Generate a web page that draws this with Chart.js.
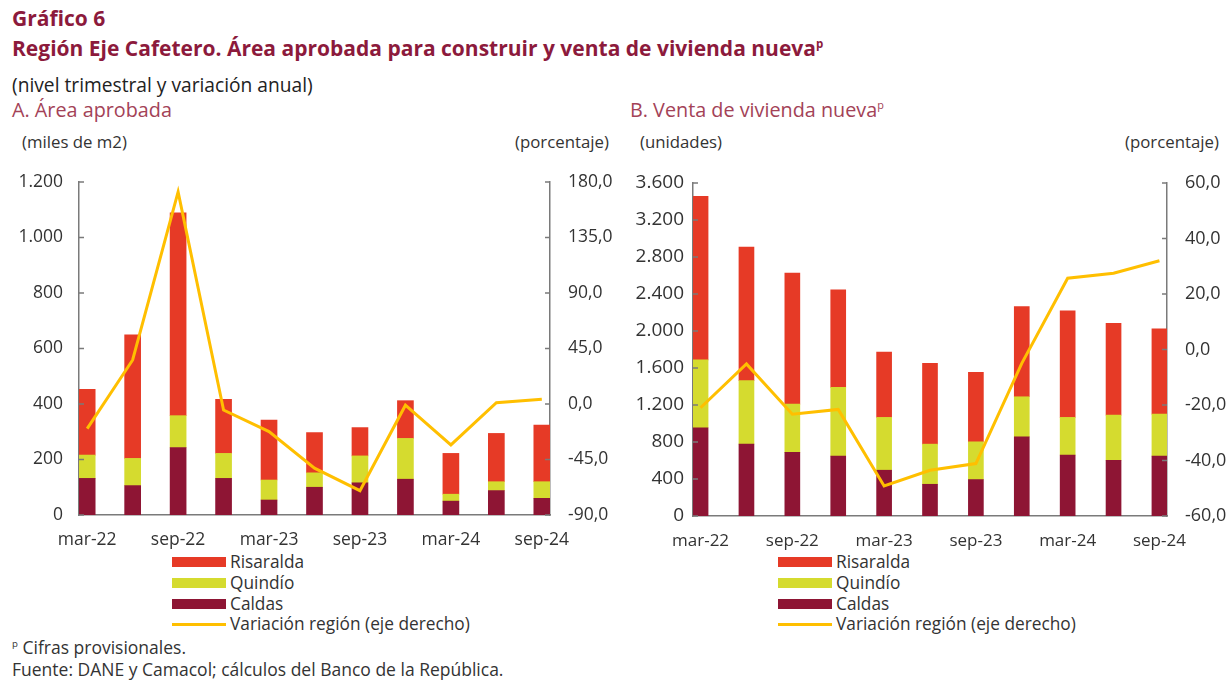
<!DOCTYPE html>
<html lang="es">
<head>
<meta charset="utf-8">
<title>Gráfico 6 - Región Eje Cafetero</title>
<script src="https://cdn.jsdelivr.net/npm/chart.js@4.4.1/dist/chart.umd.min.js"></script>
<style>
  html, body { margin: 0; padding: 0; background: #fff; }
  body { width: 1228px; height: 680px; position: relative; overflow: hidden; font-family: 'Open Sans', Lato, sans-serif; color: #222; }
  .txt { position: absolute; white-space: nowrap; line-height: 1.2; }
  .titulo { color: #8c1a3c; font-weight: bold; font-size: 21px; }
  .subtitulo { font-size: 19.2px; color: #222; }
  .panel { color: #a34257; font-size: 19.8px; }
  .unidad { font-size: 16.8px; color: #333; }
  .caja { position: absolute; }
  .leyenda { position: absolute; font-size: 17.3px; color: #333; line-height: 1.2; }
  .leyenda div { height: 20.8px; display: flex; align-items: center; white-space: nowrap; }
  .leyenda span.sw { display: inline-block; width: 54px; margin-right: 4px; flex: none; }
  .nota { font-size: 17.5px; color: #333; }
  sup { font-size: 55%; }
</style>
</head>
<body>
<div class="txt titulo" style="left:12px; top:6px;">Gráfico 6</div>
<div class="txt titulo" style="left:12px; top:36px;">Región Eje Cafetero. Área aprobada para construir y venta de vivienda nueva<sup>p</sup></div>
<div class="txt subtitulo" style="left:12px; top:73px;">(nivel trimestral y variación anual)</div>
<div class="txt panel" style="left:12px; top:98px;">A. Área aprobada</div>
<div class="txt panel" style="left:630px; top:98px;">B. Venta de vivienda nueva<sup>p</sup></div>

<div class="txt unidad" style="left:22px; top:132px;">(miles de m2)</div>
<div class="txt unidad" style="left:515px; top:132px;">(porcentaje)</div>
<div class="txt unidad" style="left:640px; top:132px;">(unidades)</div>
<div class="txt unidad" style="left:1125px; top:132px;">(porcentaje)</div>

<div class="caja" style="left:0px; top:170px; width:615px; height:380px;"><canvas id="graficoA"></canvas></div>
<div class="caja" style="left:615px; top:170px; width:613px; height:380px;"><canvas id="graficoB"></canvas></div>

<div class="leyenda" id="leyendaA" style="left:172px; top:552px;"></div>
<div class="leyenda" id="leyendaB" style="left:778px; top:552px;"></div>

<div class="txt nota" style="left:12px; top:637px;"><sup>p</sup> Cifras provisionales.</div>
<div class="txt nota" style="left:12px; top:659px;">Fuente: DANE y Camacol; cálculos del Banco de la República.</div>

<script>
// Trimestres (eje x)
const trimestres = ['mar-22', 'jun-22', 'sep-22', 'dic-22', 'mar-23', 'jun-23', 'sep-23', 'dic-23', 'mar-24', 'jun-24', 'sep-24'];

// A. Área aprobada (miles de m2)
const areaCaldas    = [132, 106, 243, 132, 54, 100, 116, 129, 50, 88, 60];
const areaQuindio   = [84, 98, 115, 90, 72, 52, 97, 147, 25, 32, 60];
const areaRisaralda = [237, 445, 731, 195, 216, 145, 102, 136, 147, 174, 204];
const areaVariacion = [-20, 35.7, 172, -4.9, -22.4, -52, -70.3, -1, -33.2, 1.1, 3.8];

// B. Venta de vivienda nueva (unidades)
const ventaCaldas    = [954, 777, 687, 647, 495, 343, 394, 856, 658, 603, 647];
const ventaQuindio   = [733, 686, 523, 744, 571, 434, 408, 433, 408, 488, 455];
const ventaRisaralda = [1769, 1445, 1416, 1054, 707, 874, 751, 975, 1152, 993, 921];
const ventaVariacion = [-21, -5.2, -23.3, -21.6, -49.2, -43.5, -41.1, -5, 25.7, 27.5, 32];

// Ticks de los ejes
const ticksAreaIzq = [0, 200, 400, 600, 800, 1000, 1200];
const ticksAreaDer = [-90, -45, 0, 45, 90, 135, 180];
const ticksVentaIzq = [0, 400, 800, 1200, 1600, 2000, 2400, 2800, 3200, 3600];
const ticksVentaDer = [-60, -40, -20, 0, 20, 40, 60];

const colores = {
  risaralda: '#e63a26',
  quindio: '#d5db2f',
  caldas: '#8e1534',
  variacion: '#ffbf00',
};
const colorEje = '#7a7a7a';
const familia = "'Open Sans', Lato, sans-serif";

function formatoMiles(v) {
  return String(v).replace(/\B(?=(\d{3})+(?!\d))/g, '.');
}
function formatoPct(v) {
  return v.toFixed(1).replace('.', ',');
}
const puntos = arr => arr.map((v, i) => ({ x: i, y: v }));

// Marcas de tick hacia adentro del área del gráfico
const ticksInternos = {
  id: 'ticksInternos',
  afterDraw(chart) {
    const ctx = chart.ctx;
    ctx.save();
    ctx.strokeStyle = colorEje;
    ctx.lineWidth = 1.5;
    ['y', 'y1'].forEach(id => {
      const s = chart.scales[id];
      const dir = s.position === 'left' ? 1 : -1;
      const x0 = s.position === 'left' ? s.right : s.left;
      s.ticks.forEach(t => {
        const y = s.getPixelForValue(t.value);
        ctx.beginPath();
        ctx.moveTo(x0, y);
        ctx.lineTo(x0 + dir * 5, y);
        ctx.stroke();
      });
    });
    ctx.restore();
  }
};

function crearGrafico(id, cfg) {
  const ctx = document.getElementById(id).getContext('2d');
  return new Chart(ctx, {
    type: 'bar',
    data: {
      datasets: [
        { type: 'line', label: 'Variación región (eje derecho)', data: puntos(cfg.variacion), yAxisID: 'y1',
          borderColor: colores.variacion, borderWidth: 3, pointRadius: 0, tension: 0, order: 0 },
        { label: 'Caldas', data: puntos(cfg.caldas), backgroundColor: colores.caldas, barThickness: cfg.grosor, order: 1 },
        { label: 'Quindío', data: puntos(cfg.quindio), backgroundColor: colores.quindio, barThickness: cfg.grosor, order: 1 },
        { label: 'Risaralda', data: puntos(cfg.risaralda), backgroundColor: colores.risaralda, barThickness: cfg.grosor, order: 1 },
      ],
    },
    options: {
      responsive: true,
      maintainAspectRatio: false,
      animation: false,
      layout: { padding: { top: cfg.arriba, left: 0, right: 0, bottom: 0 } },
      plugins: { legend: { display: false }, tooltip: { enabled: false } },
      scales: {
        x: {
          type: 'linear', stacked: true, offset: false,
          min: -cfg.margen, max: trimestres.length - 1 + cfg.margen,
          grid: { display: false, drawTicks: false, offset: false },
          border: { color: colorEje, width: 1.5 },
          afterBuildTicks: s => { s.ticks = trimestres.map((_, i) => ({ value: i })); },
          ticks: { autoSkip: false, maxRotation: 0, padding: 15, color: '#333', font: { family: familia, size: cfg.fuenteX },
            callback: v => (v % 2 === 0 ? trimestres[v] : '') },
          afterFit: s => { s.height = cfg.altoX; },
        },
        y: {
          position: 'left', stacked: true, min: cfg.izq[0], max: cfg.izq[cfg.izq.length - 1],
          grid: { display: false, drawTicks: false },
          border: { color: colorEje, width: 1.5 },
          afterBuildTicks: s => { s.ticks = cfg.izq.map(v => ({ value: v })); },
          ticks: { padding: cfg.padIzq, color: '#333', font: { family: familia, size: cfg.fuenteIzq }, callback: v => formatoMiles(v) },
          afterFit: s => { s.width = cfg.anchoIzq; s.paddingTop = 0; s.paddingBottom = 0; },
        },
        y1: {
          position: 'right', min: cfg.der[0], max: cfg.der[cfg.der.length - 1],
          grid: { display: false, drawTicks: false },
          border: { color: colorEje, width: 1.5 },
          afterBuildTicks: s => { s.ticks = cfg.der.map(v => ({ value: v })); },
          ticks: { padding: 18, color: '#333', font: { family: familia, size: cfg.fuenteDer }, callback: v => formatoPct(v) },
          afterFit: s => { s.width = cfg.anchoDer; s.paddingTop = 0; s.paddingBottom = 0; },
        },
      },
    },
    plugins: [ticksInternos],
  });
}

function crearLeyenda(id) {
  const items = [
    { nombre: 'Risaralda', color: colores.risaralda, alto: 10 },
    { nombre: 'Quindío', color: colores.quindio, alto: 10 },
    { nombre: 'Caldas', color: colores.caldas, alto: 10 },
    { nombre: 'Variación región (eje derecho)', color: colores.variacion, alto: 3 },
  ];
  const el = document.getElementById(id);
  items.forEach(it => {
    const fila = document.createElement('div');
    fila.innerHTML = `<span class="sw" style="height:${it.alto}px;background:${it.color}"></span>${it.nombre}`;
    el.appendChild(fila);
  });
}

crearGrafico('graficoA', {
  caldas: areaCaldas, quindio: areaQuindio, risaralda: areaRisaralda, variacion: areaVariacion,
  izq: ticksAreaIzq, der: ticksAreaDer, grosor: 16, margen: 0.18,
  arriba: 12, altoX: 35, anchoIzq: 79, anchoDer: 65, padIzq: 16,
  fuenteX: 17.5, fuenteIzq: 17.5, fuenteDer: 17.5,
});
crearGrafico('graficoB', {
  caldas: ventaCaldas, quindio: ventaQuindio, risaralda: ventaRisaralda, variacion: ventaVariacion,
  izq: ticksVentaIzq, der: ticksVentaDer, grosor: 15, margen: 0.165,
  arriba: 13, altoX: 34, anchoIzq: 78, anchoDer: 61, padIzq: 9,
  fuenteX: 17, fuenteIzq: 19, fuenteDer: 18,
});
crearLeyenda('leyendaA');
crearLeyenda('leyendaB');
</script>
</body>
</html>
